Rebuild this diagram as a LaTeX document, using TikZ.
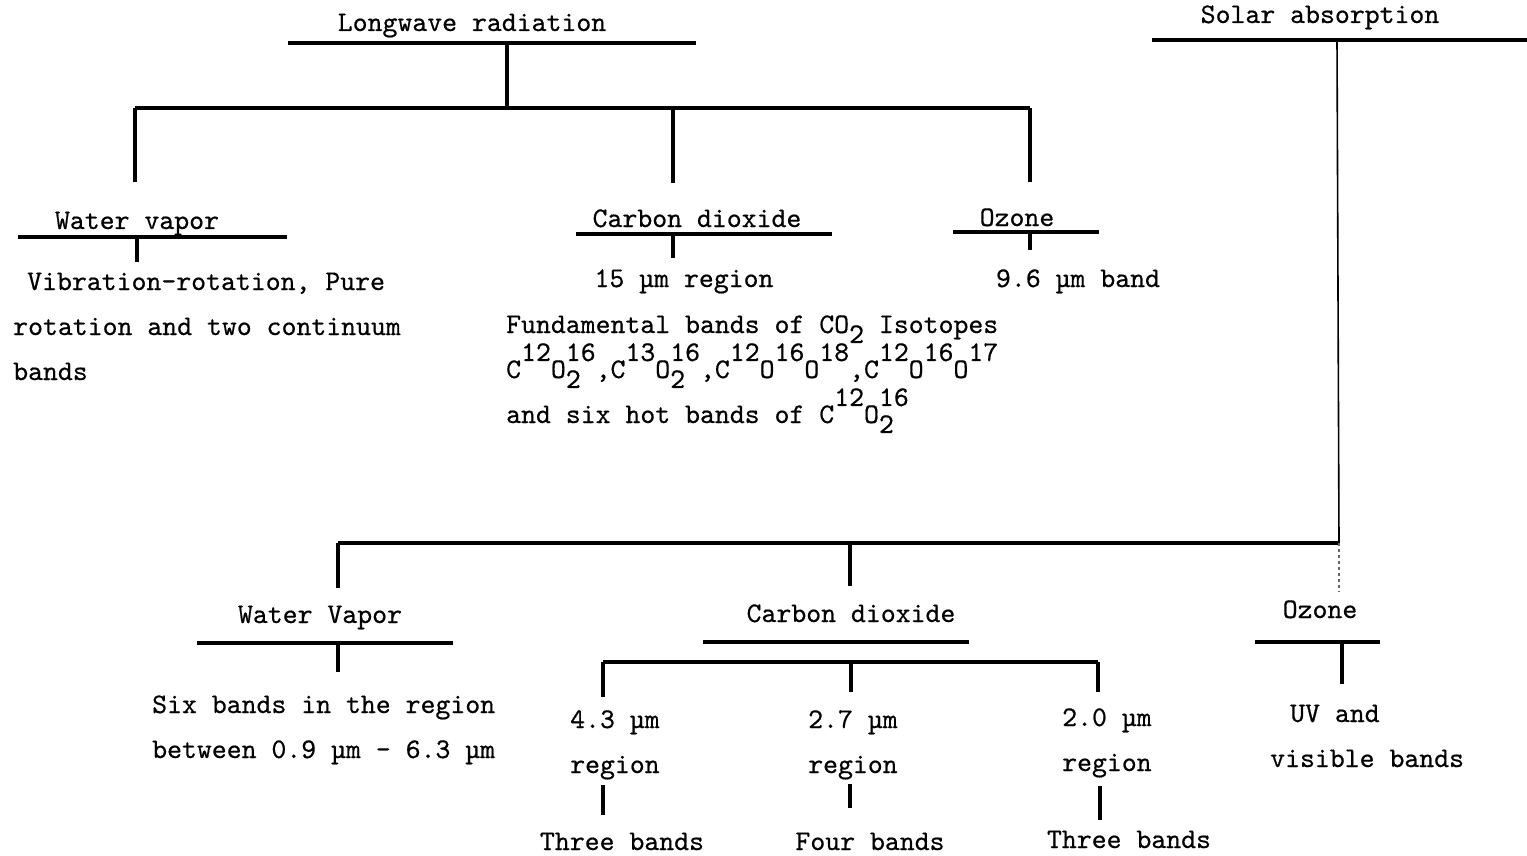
\documentclass[tikz,border=0pt]{standalone}
\usepackage{fontspec}
\usepackage{tikz}
\newfontfamily\typefont{lmmono10-regular.otf}[FakeBold=0.5]
\newcommand{\isup}[1]{\raisebox{0.6em}{#1}}
\newcommand{\isub}[1]{\raisebox{-0.35em}{#1}}
\newcommand{\isubsup}[2]{\rlap{\raisebox{-0.35em}{#1}}\raisebox{0.6em}{#2}}
\tikzset{
    tnode/.style = {inner sep=0pt, font=\fontsize{28.4}{45}\selectfont\typefont},
    head/.style = {tnode, anchor=base},
    leaf/.style = {tnode, anchor=base west, align=left},
    bar/.style = {line width=3.2pt},
    thin_bar/.style = {line width=1.6pt},
    faint_bar/.style = {line width=1.4pt, black!60, dashed}
}
\begin{document}
\begin{tikzpicture}[x=1pt, y=-1pt]
            \useasboundingbox (0,0) rectangle (1527,856);

            % longwave radiation
            \node [head] (lw) at (472,31) {Longwave radiation};
            \coordinate (lw_l) at (288,43);
            \coordinate (lw_r) at (696,43);
            \coordinate (lw_j) at (507,43);
            \coordinate (lw_b) at (507,108);
            \coordinate (lw_bl) at (135,108);
            \coordinate (lw_bm) at (673,108);
            \coordinate (lw_br) at (1030,108);
            \coordinate (lw_dl) at (135,182);
            \coordinate (lw_dm) at (673,183);
            \coordinate (lw_dr) at (1030,182);
            \draw [bar] (lw_l) -- (lw_r);
            \draw [bar] (lw_j) -- (lw_b);
            \draw [bar] (lw_bl) -- (lw_br);
            \draw [bar] (lw_bl) -- (lw_dl);
            \draw [bar] (lw_bm) -- (lw_dm);
            \draw [bar] (lw_br) -- (lw_dr);

            \node [head] (wv_a) at (137,229) {Water vapor};
            \coordinate (wv_a_l) at (18,237);
            \coordinate (wv_a_r) at (287,237);
            \coordinate (wv_a_j) at (137,237);
            \coordinate (wv_a_d) at (137,262);
            \draw [bar] (wv_a_l) -- (wv_a_r);
            \draw [bar] (wv_a_j) -- (wv_a_d);
            \node [leaf] (wv_a_t) at (13,380)
                {\hspace*{14pt}Vibration-rotation, Pure\\rotation and two continuum\\bands};

            \node [head] (co_a) at (697,227) {Carbon dioxide};
            \coordinate (co_a_l) at (576,234);
            \coordinate (co_a_r) at (832,234);
            \coordinate (co_a_j) at (673,234);
            \coordinate (co_a_d) at (673,258);
            \draw [bar] (co_a_l) -- (co_a_r);
            \draw [bar] (co_a_j) -- (co_a_d);
            \node [head] (co_a_t) at (684,287) {15 µm region};
            \node [leaf] (co_a_iso) at (506,423)
                {Fundamental bands of CO\isub{2} Isotopes\\
                 C\isup{12}O\isubsup{2}{16},C\isup{13}O\isubsup{2}{16},C\isup{12}O\isup{16}O\isup{18},C\isup{12}O\isup{16}O\isup{17}\\
                 and six hot bands of C\isup{12}O\isubsup{2}{16}};

            \node [head] (oz_a) at (1017,226) {Ozone};
            \coordinate (oz_a_l) at (953,232);
            \coordinate (oz_a_r) at (1099,232);
            \coordinate (oz_a_j) at (1030,232);
            \coordinate (oz_a_d) at (1030,250);
            \draw [bar] (oz_a_l) -- (oz_a_r);
            \draw [bar] (oz_a_j) -- (oz_a_d);
            \node [head] (oz_a_t) at (1078,287) {9.6 µm band};

            % solar absorption
            \node [head] (sa) at (1320,23) {Solar absorption};
            \coordinate (sa_l) at (1152,40);
            \coordinate (sa_r) at (1527,40);
            \coordinate (sa_j) at (1337,40);
            \coordinate (sa_b) at (1339,543);
            \coordinate (sa_bl) at (338,543);
            \coordinate (sa_bm) at (850,543);
            \coordinate (sa_dl) at (338,588);
            \coordinate (sa_dm) at (850,586);
            \coordinate (sa_dr) at (1339,592);
            \draw [bar] (sa_l) -- (sa_r);
            \draw [thin_bar] (sa_j) -- (sa_b);
            \draw [bar] (sa_bl) -- (sa_b);
            \draw [bar] (sa_bl) -- (sa_dl);
            \draw [bar] (sa_bm) -- (sa_dm);
            \draw [faint_bar] (sa_b) -- (sa_dr);

            \node [head] (wv_b) at (320,623) {Water Vapor};
            \coordinate (wv_b_l) at (197,643);
            \coordinate (wv_b_r) at (453,643);
            \coordinate (wv_b_j) at (338,643);
            \coordinate (wv_b_d) at (338,672);
            \draw [bar] (wv_b_l) -- (wv_b_r);
            \draw [bar] (wv_b_j) -- (wv_b_d);
            \node [leaf] (wv_b_t) at (152,758)
                {Six bands in the region\\between 0.9 µm - 6.3 µm};

            \node [head] (co_b) at (851,622) {Carbon dioxide};
            \coordinate (co_b_l) at (703,642);
            \coordinate (co_b_r) at (969,642);
            \coordinate (co_b_bl) at (603,662);
            \coordinate (co_b_bm) at (851,662);
            \coordinate (co_b_br) at (1098,662);
            \coordinate (co_b_dl) at (603,697);
            \coordinate (co_b_dm) at (851,692);
            \coordinate (co_b_dr) at (1098,692);
            \draw [bar] (co_b_l) -- (co_b_r);
            \draw [bar] (co_b_bl) -- (co_b_br);
            \draw [bar] (co_b_bl) -- (co_b_dl);
            \draw [bar] (co_b_bm) -- (co_b_dm);
            \draw [bar] (co_b_br) -- (co_b_dr);

            \node [leaf] (r43) at (570,773) {4.3 µm\\region};
            \coordinate (r43_u) at (603,785);
            \coordinate (r43_d) at (603,815);
            \draw [bar] (r43_u) -- (r43_d);
            \node [head] (r43_t) at (622,850) {Three bands};

            \node [leaf] (r27) at (808,773) {2.7 µm\\region};
            \coordinate (r27_u) at (850,784);
            \coordinate (r27_d) at (850,808);
            \draw [bar] (r27_u) -- (r27_d);
            \node [head] (r27_t) at (870,850) {Four bands};

            \node [leaf] (r20) at (1062,771) {2.0 µm\\region};
            \coordinate (r20_u) at (1100,786);
            \coordinate (r20_d) at (1100,820);
            \draw [bar] (r20_u) -- (r20_d);
            \node [head] (r20_t) at (1129,848) {Three bands};

            \node [head] (oz_b) at (1320,618) {Ozone};
            \coordinate (oz_b_l) at (1255,642);
            \coordinate (oz_b_r) at (1380,642);
            \coordinate (oz_b_j) at (1342,642);
            \coordinate (oz_b_d) at (1342,684);
            \draw [bar] (oz_b_l) -- (oz_b_r);
            \draw [bar] (oz_b_j) -- (oz_b_d);
            \node [leaf] (oz_b_t) at (1270,767) {\hspace*{20pt}UV and\\visible bands};
\end{tikzpicture}
\end{document}
